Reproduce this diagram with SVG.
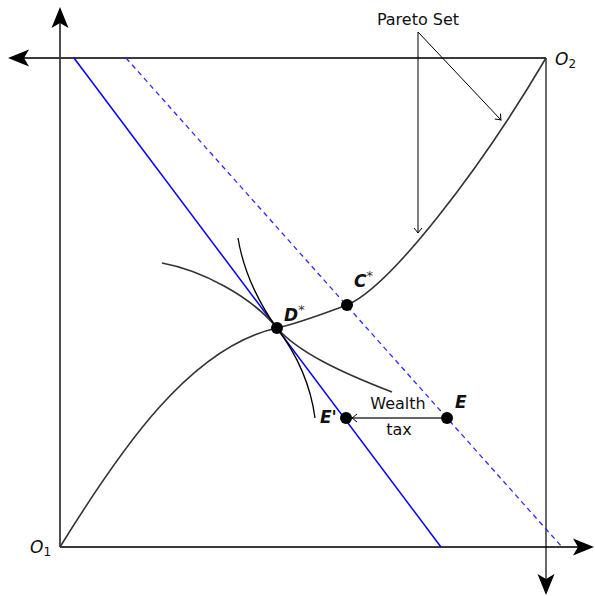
<svg xmlns="http://www.w3.org/2000/svg" width="595" height="596" viewBox="0 0 595 596">
<style>
.ax{fill:none;stroke:#3a3a3a;stroke-width:1.8}
.bx{fill:none;stroke:#000;stroke-width:1.2}
.cv{fill:none;stroke:#333;stroke-width:1.6}
.ic{fill:none;stroke:#000;stroke-width:1.3}
.thin{fill:none;stroke:#000;stroke-width:1}
.bl{fill:none;stroke:#0000ff;stroke-width:1.5}
.bd{fill:none;stroke:#2a2aff;stroke-width:1.3;stroke-dasharray:5,4}
.dot{fill:#000}
text{font-family:"DejaVu Sans",sans-serif;fill:#111}
.t{font-size:16px}
.lb{font-size:17px;font-weight:bold;font-style:italic}
.o{font-size:17px;font-style:italic}
.sup{font-size:13px;font-weight:normal;font-style:normal;fill:#333}
.sub{font-size:12px;font-style:normal}
</style>
<defs>
<marker id="big" markerUnits="userSpaceOnUse" viewBox="-17 -10 23 20" markerWidth="23" markerHeight="20" refX="0" refY="0" orient="auto">
<path d="M5,0 L-16,-8.5 L-11,0 L-16,8.5 Z" fill="#000"/>
</marker>
<marker id="to" markerUnits="userSpaceOnUse" viewBox="-7 -6 9 12" markerWidth="9" markerHeight="12" refX="0" refY="0" orient="auto">
<path d="M-5,-4 Q-1.5,-1 0,0 Q-1.5,1 -5,4" fill="none" stroke="#000" stroke-width="1"/>
</marker>
</defs>
<g id="connectors">
<path class="ax" d="M60,547 H589" marker-end="url(#big)"/>
<path class="ax" d="M60,547 V12" marker-end="url(#big)"/>
<path class="ax" d="M546,58 H13" marker-end="url(#big)"/>
<path class="bx" d="M546,58 V590" marker-end="url(#big)"/>
<path class="bl" d="M74,58 L441,547"/>
<path class="bd" d="M126,58 L562,547"/>
<path class="cv" d="M60,547 C120,450 190,347 277,328 C300,323 325,313 347,305 C390,287 480,170 546,58"/>
<path class="cv" d="M162,263 C200,270 250,295 277,328 C298,352 340,372 392,392"/>
<path class="ic" d="M238,238 C244,275 262,308 277,328 C292,348 310,380 315,418"/>
<path class="thin" d="M418,32 V233" marker-end="url(#to)"/>
<path class="thin" d="M418,32 L501,120" marker-end="url(#to)"/>
<path fill="none" stroke="#333" stroke-width="1.3" d="M441,418 H352" marker-end="url(#to)"/>
</g>
<g id="O1"><text class="o" x="30" y="553">O<tspan class="sub" dy="3">1</tspan></text></g>
<g id="O2"><text class="o" x="555" y="65">O<tspan class="sub" dy="3">2</tspan></text></g>
<g id="pareto"><text class="t" x="418" y="25" text-anchor="middle">Pareto Set</text></g>
<g id="Dstar"><circle class="dot" cx="277" cy="328" r="6"/><text class="lb" x="284" y="321">D<tspan class="sup" dy="-7">*</tspan></text></g>
<g id="Cstar"><circle class="dot" cx="347" cy="305" r="6"/><text class="lb" x="354" y="287">C<tspan class="sup" dy="-7">*</tspan></text></g>
<g id="E"><circle class="dot" cx="447" cy="418" r="6"/><text class="lb" x="455" y="408">E</text></g>
<g id="Eprime"><circle class="dot" cx="346" cy="418" r="6"/><text class="lb" x="320" y="423">E'</text></g>
<g id="wealthtax"><text class="t" x="398" y="409" text-anchor="middle">Wealth</text><text class="t" x="399" y="435" text-anchor="middle">tax</text></g>
</svg>
